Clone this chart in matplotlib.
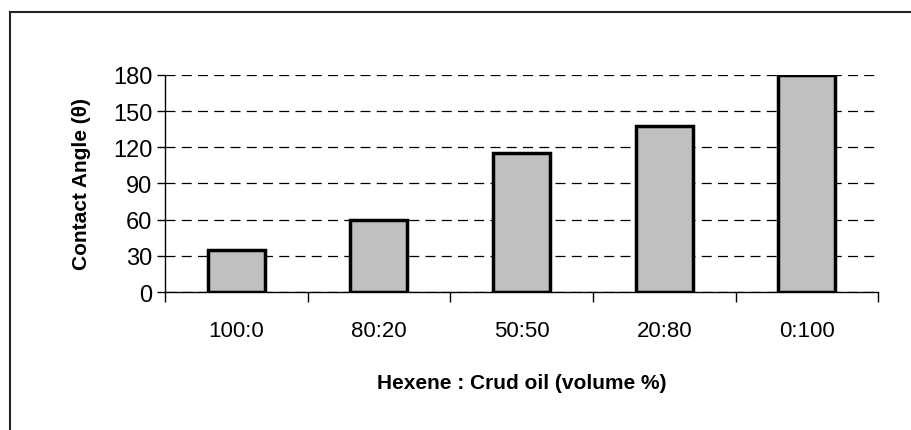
import numpy as np
import matplotlib.pyplot as plt
from matplotlib.lines import Line2D

# data
ratios = ["100:0", "80:20", "50:50", "20:80", "0:100"]
contact_angle = [35, 60, 115, 138, 180]
y_ticks = [0, 30, 60, 90, 120, 150, 180]

plt.rcParams['font.family'] = ['Liberation Sans', 'DejaVu Sans']

fig = plt.figure(figsize=(9.11, 4.31), dpi=100)
ax = fig.add_axes([0.181, 0.320, 0.783, 0.504])

x = np.arange(len(ratios))
ax.bar(x, contact_angle, width=0.4, color="#c0c0c0", edgecolor="black",
       linewidth=2.5, zorder=3)

ax.set_xlim(-0.5, len(ratios) - 0.5)
ax.set_ylim(0, 180)
ax.set_yticks(y_ticks)
ax.set_yticklabels([str(v) for v in y_ticks], fontsize=17)

# labels at the centres, tick marks on the boundaries
ax.set_xticks(x)
ax.set_xticklabels(ratios, fontsize=16)
ax.set_xticks(np.arange(-0.5, len(ratios)), minor=True)
ax.tick_params(axis='x', which='major', length=0, pad=20)
ax.tick_params(axis='x', which='minor', length=7, width=1, direction='out')
ax.tick_params(axis='y', length=6, width=1, direction='out', pad=3)

ax.yaxis.grid(True, linestyle=(0, (8, 5)), color="black", linewidth=0.9, zorder=0)
ax.set_axisbelow(True)

for side in ["top", "right"]:
    ax.spines[side].set_visible(False)
ax.spines["left"].set_linewidth(1)
ax.spines["bottom"].set_linewidth(1)

ax.set_ylabel("Contact Angle (θ)", fontsize=15, fontweight="bold", labelpad=16)
ax.set_xlabel("Hexene : Crud oil (volume %)", fontsize=15, fontweight="bold", labelpad=23)

# outer chart frame (only top and left are visible in the crop)
fig.add_artist(Line2D([10 / 911, 1.0], [1 - 13 / 431, 1 - 13 / 431],
                      transform=fig.transFigure, color="#222222", linewidth=1.5))
fig.add_artist(Line2D([10 / 911, 10 / 911], [0.0, 1 - 13 / 431],
                      transform=fig.transFigure, color="#222222", linewidth=1.5))

fig.savefig("out.png", dpi=100)
